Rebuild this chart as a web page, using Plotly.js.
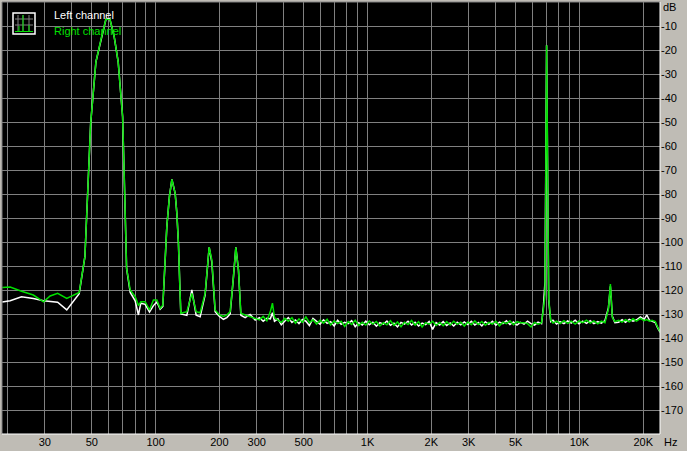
<!DOCTYPE html>
<html>
<head>
<meta charset="utf-8">
<script src="https://cdn.plot.ly/plotly-3.0.1.min.js"></script>
<style>html,body{margin:0;padding:0;background:#bfbcb5;}#chart{width:687px;height:451px;}</style>
</head>
<body>
<div id="chart"></div>
<script>
// Frequencies (Hz) shared by both channels
const freqHz = [
  18.9, 20.6, 23.3, 26.5, 29.6, 31.8, 34.5, 38.1, 43.6,
  46.4, 49.4, 52.3, 55.6, 58.3, 60.9, 63.8, 66.6, 69.9, 71.5, 73.0,
  75.9, 80.1, 83.0, 85.2, 89.3, 93.6, 97.7, 101.4, 105.1, 108.2,
  113.0, 116.2, 119.4, 123.7, 126.0, 128.2, 130.5, 131.6, 140.5, 148.3, 155.4, 162.3,
  171.3, 179.0, 184.3, 191.0, 200.1, 209.0, 216.9, 224.9, 233.1, 239.2, 246.1, 252.6,
  264.7, 279.4, 295.1, 309.2, 322, 335, 348, 356, 364, 378, 392, 407, 423, 440, 457, 475, 493,
  512, 532, 553, 575, 597, 620, 645, 670, 696, 723, 751, 780, 811, 842, 875, 909, 945, 982,
  1020, 1060, 1101, 1144, 1189, 1235, 1283, 1333, 1385, 1439, 1495, 1553, 1614, 1677, 1742,
  1810, 1880, 1953, 2029, 2108, 2190, 2276, 2364, 2456, 2552, 2651, 2754, 2862, 2973, 3089,
  3209, 3334, 3464, 3599, 3739, 3884, 4035, 4192, 4355, 4525, 4701, 4884, 5074, 5272, 5477,
  5690, 5911, 6141, 6380, 6628, 6760, 6880, 7000, 7160, 7320, 7500, 7800, 8100, 8450, 8800,
  9150, 9550, 9950, 10350, 10800, 11250, 11700, 12200, 12700, 13200, 13700, 14000, 14300,
  14700, 15300, 15900, 16500, 17200, 17900, 18600, 19400, 20200, 20800, 21400, 22000, 22800,
  23400, 24000
];

// Left channel level (dB)
const leftDb = [
  -125.0, -124.5, -122.8, -123.5, -124.5, -124.8, -125.1, -128.3, -121.5,
  -106.1, -50.5, -24.9, -14.5, -7.2, -7.2, -14.5, -24.9, -47.8, -80, -111,
  -121.0, -124.5, -130.4, -125.5, -126.0, -129.2, -126.5, -125.0, -128.0, -126.8,
  -93.6, -81.1, -73.9, -79.7, -88, -100.5, -121.4, -130.0, -130.6, -120.0, -130.5, -131.1,
  -122.0, -102.2, -108.5, -129.0, -131.0, -132.2, -131.5, -130.0, -114.4, -102.2, -111.7, -130.5,
  -131.5, -130.2, -132.5, -131.5, -133.0, -131.8, -132.0, -129.5, -133.0, -132.0, -134.5, -132.8, -131.5, -133.5, -132.5, -134.0, -132.3,
  -133.0, -134.8, -131.8, -133.0, -134.2, -132.4, -133.9, -133.2, -135.0, -132.6, -134.3, -133.5, -134.0, -132.8, -135.3, -133.6, -134.6, -133.0,
  -134.5, -133.4, -135.1, -133.6, -134.2, -132.9, -134.7, -133.8, -135.4, -133.5, -134.2, -133.0, -134.6, -133.4, -135.0,
  -133.8, -134.4, -133.1, -136.4, -133.6, -134.6, -133.2, -134.8, -133.7, -135.0, -133.4, -134.5, -133.3, -134.4, -133.0,
  -134.6, -133.5, -135.0, -133.2, -134.3, -133.0, -134.7, -133.4, -134.0, -132.8, -134.4, -133.3, -134.6, -133.5, -134.2,
  -133.0, -134.0, -134.6, -133.4, -134.0, -127.0, -116.5, -18.0, -124.0, -133.2, -132.6, -134.2, -133.2, -134.0, -132.9,
  -133.8, -132.6, -134.1, -133.0, -133.9, -132.8, -134.0, -133.2, -133.8, -132.7, -127.5, -118.5, -131.0,
  -133.6, -133.4, -132.4, -133.5, -132.2, -133.0, -132.4, -131.2, -132.2, -130.4, -132.6, -133.0, -133.6,
  -135.8, -137.6
];

// Right channel level (dB)
const rightDb = [
  -119.0, -118.8, -120.5, -122.1, -124.9, -122.5, -121.4, -123.5, -121.0,
  -106.1, -50.5, -24.9, -14.5, -7.2, -7.2, -14.5, -24.9, -47.8, -80, -111,
  -120.0, -122.8, -126.5, -124.9, -124.9, -128.3, -124.2, -124.2, -127.6, -126.3,
  -93.6, -81.1, -73.9, -79.7, -88, -100.5, -121.4, -129.7, -129.0, -121.4, -129.0, -129.5,
  -121.4, -102.2, -107.5, -128.3, -130.4, -131.0, -130.4, -129.0, -114.4, -102.2, -111.7, -129.7,
  -130.4, -131.1, -131.8, -132.5, -131.0, -132.8, -129.0, -125.5, -131.5, -132.5, -133.5, -131.8, -133.0, -131.5, -133.8, -132.0, -133.5,
  -131.2, -133.6, -132.4, -134.2, -132.6, -133.8, -132.2, -134.6, -132.8, -134.0, -133.0, -135.2, -133.2, -134.4, -132.6, -134.8, -133.4, -134.6,
  -132.9, -134.2, -133.1, -135.0, -133.6, -134.5, -132.8, -134.7, -133.3, -135.3, -133.4, -134.4, -132.7, -134.6, -133.2,
  -135.4, -133.6, -134.2, -133.0, -134.8, -133.5, -134.9, -133.2, -134.6, -133.0, -134.3, -133.4, -135.0, -133.3, -134.5,
  -132.9, -134.4, -133.1, -134.7, -133.5, -134.2, -133.0, -134.9, -133.4, -134.0, -132.8, -134.5, -133.2, -133.6, -133.6,
  -134.0, -135.4, -133.5, -134.2, -133.6, -128.0, -122.0, -18.0, -123.3, -132.5, -133.8, -133.0, -134.0, -132.8, -133.9,
  -133.0, -134.2, -132.9, -133.6, -132.6, -133.8, -132.9, -134.1, -133.0, -133.6, -128.0, -117.5, -131.5,
  -133.2, -132.6, -133.4, -132.4, -133.3, -132.0, -133.0, -131.8, -132.8, -132.3, -133.0, -132.6, -133.2,
  -135.5, -137.4
];

// Axis ticks
const xGridHz = [20,30,40,50,60,70,80,90,100,200,300,400,500,600,700,800,900,
  1000,2000,3000,4000,5000,6000,7000,8000,9000,10000,20000];
const xLabelMap = {30:'30',50:'50',100:'100',200:'200',300:'300',500:'500',
  1000:'1K',2000:'2K',3000:'3K',5000:'5K',10000:'10K',20000:'20K'};
const yTickDb = [-10,-20,-30,-40,-50,-60,-70,-80,-90,-100,-110,-120,-130,-140,-150,-160,-170];
const seriesNames = ['Left channel', 'Right channel'];

const W = 687, H = 451, L = 2, R = 27, T = 2, B = 17;
const pw = W - L - R, ph = H - T - B;
const px = x => (x - L) / pw;
const py = y => 1 - (y - T) / ph;

const FONT = 'Liberation Sans, Arial, sans-serif';
const GREEN = '#00e000';

const traces = [
  {x: freqHz, y: leftDb, type: 'scatter', mode: 'lines', name: seriesNames[0],
   line: {color: '#ffffff', width: 1.5}, hoverinfo: 'skip'},
  {x: freqHz, y: rightDb, type: 'scatter', mode: 'lines', name: seriesNames[1],
   line: {color: GREEN, width: 1.5}, hoverinfo: 'skip'}
];

const lineShape = (x0, y0, x1, y1, color) => ({type: 'line', xref: 'paper', yref: 'paper',
  x0: px(x0), y0: py(y0), x1: px(x1), y1: py(y1), line: {color: color, width: 1}});

const shapes = [
  // sunken frame
  lineShape(2, 2, 660, 2, '#808080'),
  lineShape(2, 2, 2, 434, '#808080'),
  lineShape(2, 434, 660, 434, '#ffffff'),
  lineShape(660, 2, 660, 434, '#ffffff'),
  // legend icon
  {type: 'rect', xref: 'paper', yref: 'paper', x0: px(13), y0: py(13), x1: px(35), y1: py(34),
   line: {color: '#ffffff', width: 1.5}, fillcolor: '#000000'},
  lineShape(18, 15, 18, 32, '#808080'),
  lineShape(23, 15, 23, 32, '#808080'),
  lineShape(29, 15, 29, 32, '#808080'),
  lineShape(15, 19, 33, 19, '#808080'),
  lineShape(15, 25, 33, 25, '#808080'),
  lineShape(15, 31.5, 33, 31.5, GREEN),
  lineShape(19, 31.5, 19, 26, GREEN),
  lineShape(23, 31.5, 23, 15, GREEN),
  lineShape(29, 31.5, 29, 25, GREEN)
];

const annotations = [
  {text: seriesNames[0], xref: 'paper', yref: 'paper', x: px(52), y: py(14.5), xanchor: 'left', yanchor: 'middle',
   showarrow: false, font: {family: FONT, size: 11, color: '#ffffff'}},
  {text: seriesNames[1], xref: 'paper', yref: 'paper', x: px(52), y: py(31), xanchor: 'left', yanchor: 'middle',
   showarrow: false, font: {family: FONT, size: 11, color: GREEN}},
  {text: 'dB', xref: 'paper', yref: 'paper', x: px(661), y: py(7), xanchor: 'left', yanchor: 'middle',
   showarrow: false, font: {family: FONT, size: 11, color: '#000000'}},
  {text: 'Hz', xref: 'paper', yref: 'paper', x: px(662), y: py(441.5), xanchor: 'left', yanchor: 'middle',
   showarrow: false, font: {family: FONT, size: 11, color: '#000000'}}
];

const layout = {
  width: W, height: H,
  margin: {l: L, r: R, t: T, b: B, pad: 0},
  paper_bgcolor: '#bfbcb5',
  plot_bgcolor: '#000000',
  showlegend: false,
  font: {family: FONT, size: 11, color: '#000000'},
  xaxis: {
    type: 'log',
    range: [Math.log10(18.85), Math.log10(24000)],
    tickvals: xGridHz,
    ticktext: xGridHz.map(v => xLabelMap[v] || ''),
    showgrid: true, gridcolor: '#808080', gridwidth: 1,
    zeroline: false, showline: false, ticks: '',
    tickfont: {family: FONT, size: 11, color: '#000000'},
    fixedrange: true
  },
  yaxis: {
    range: [-180, 0],
    side: 'right',
    tickvals: yTickDb,
    ticktext: yTickDb.map(String),
    showgrid: true, gridcolor: '#808080', gridwidth: 1,
    zeroline: false, showline: false, ticks: '',
    tickfont: {family: FONT, size: 11, color: '#000000'},
    fixedrange: true
  },
  shapes: shapes,
  annotations: annotations
};

Plotly.newPlot('chart', traces, layout, {displayModeBar: false, staticPlot: true});
</script>
</body>
</html>
